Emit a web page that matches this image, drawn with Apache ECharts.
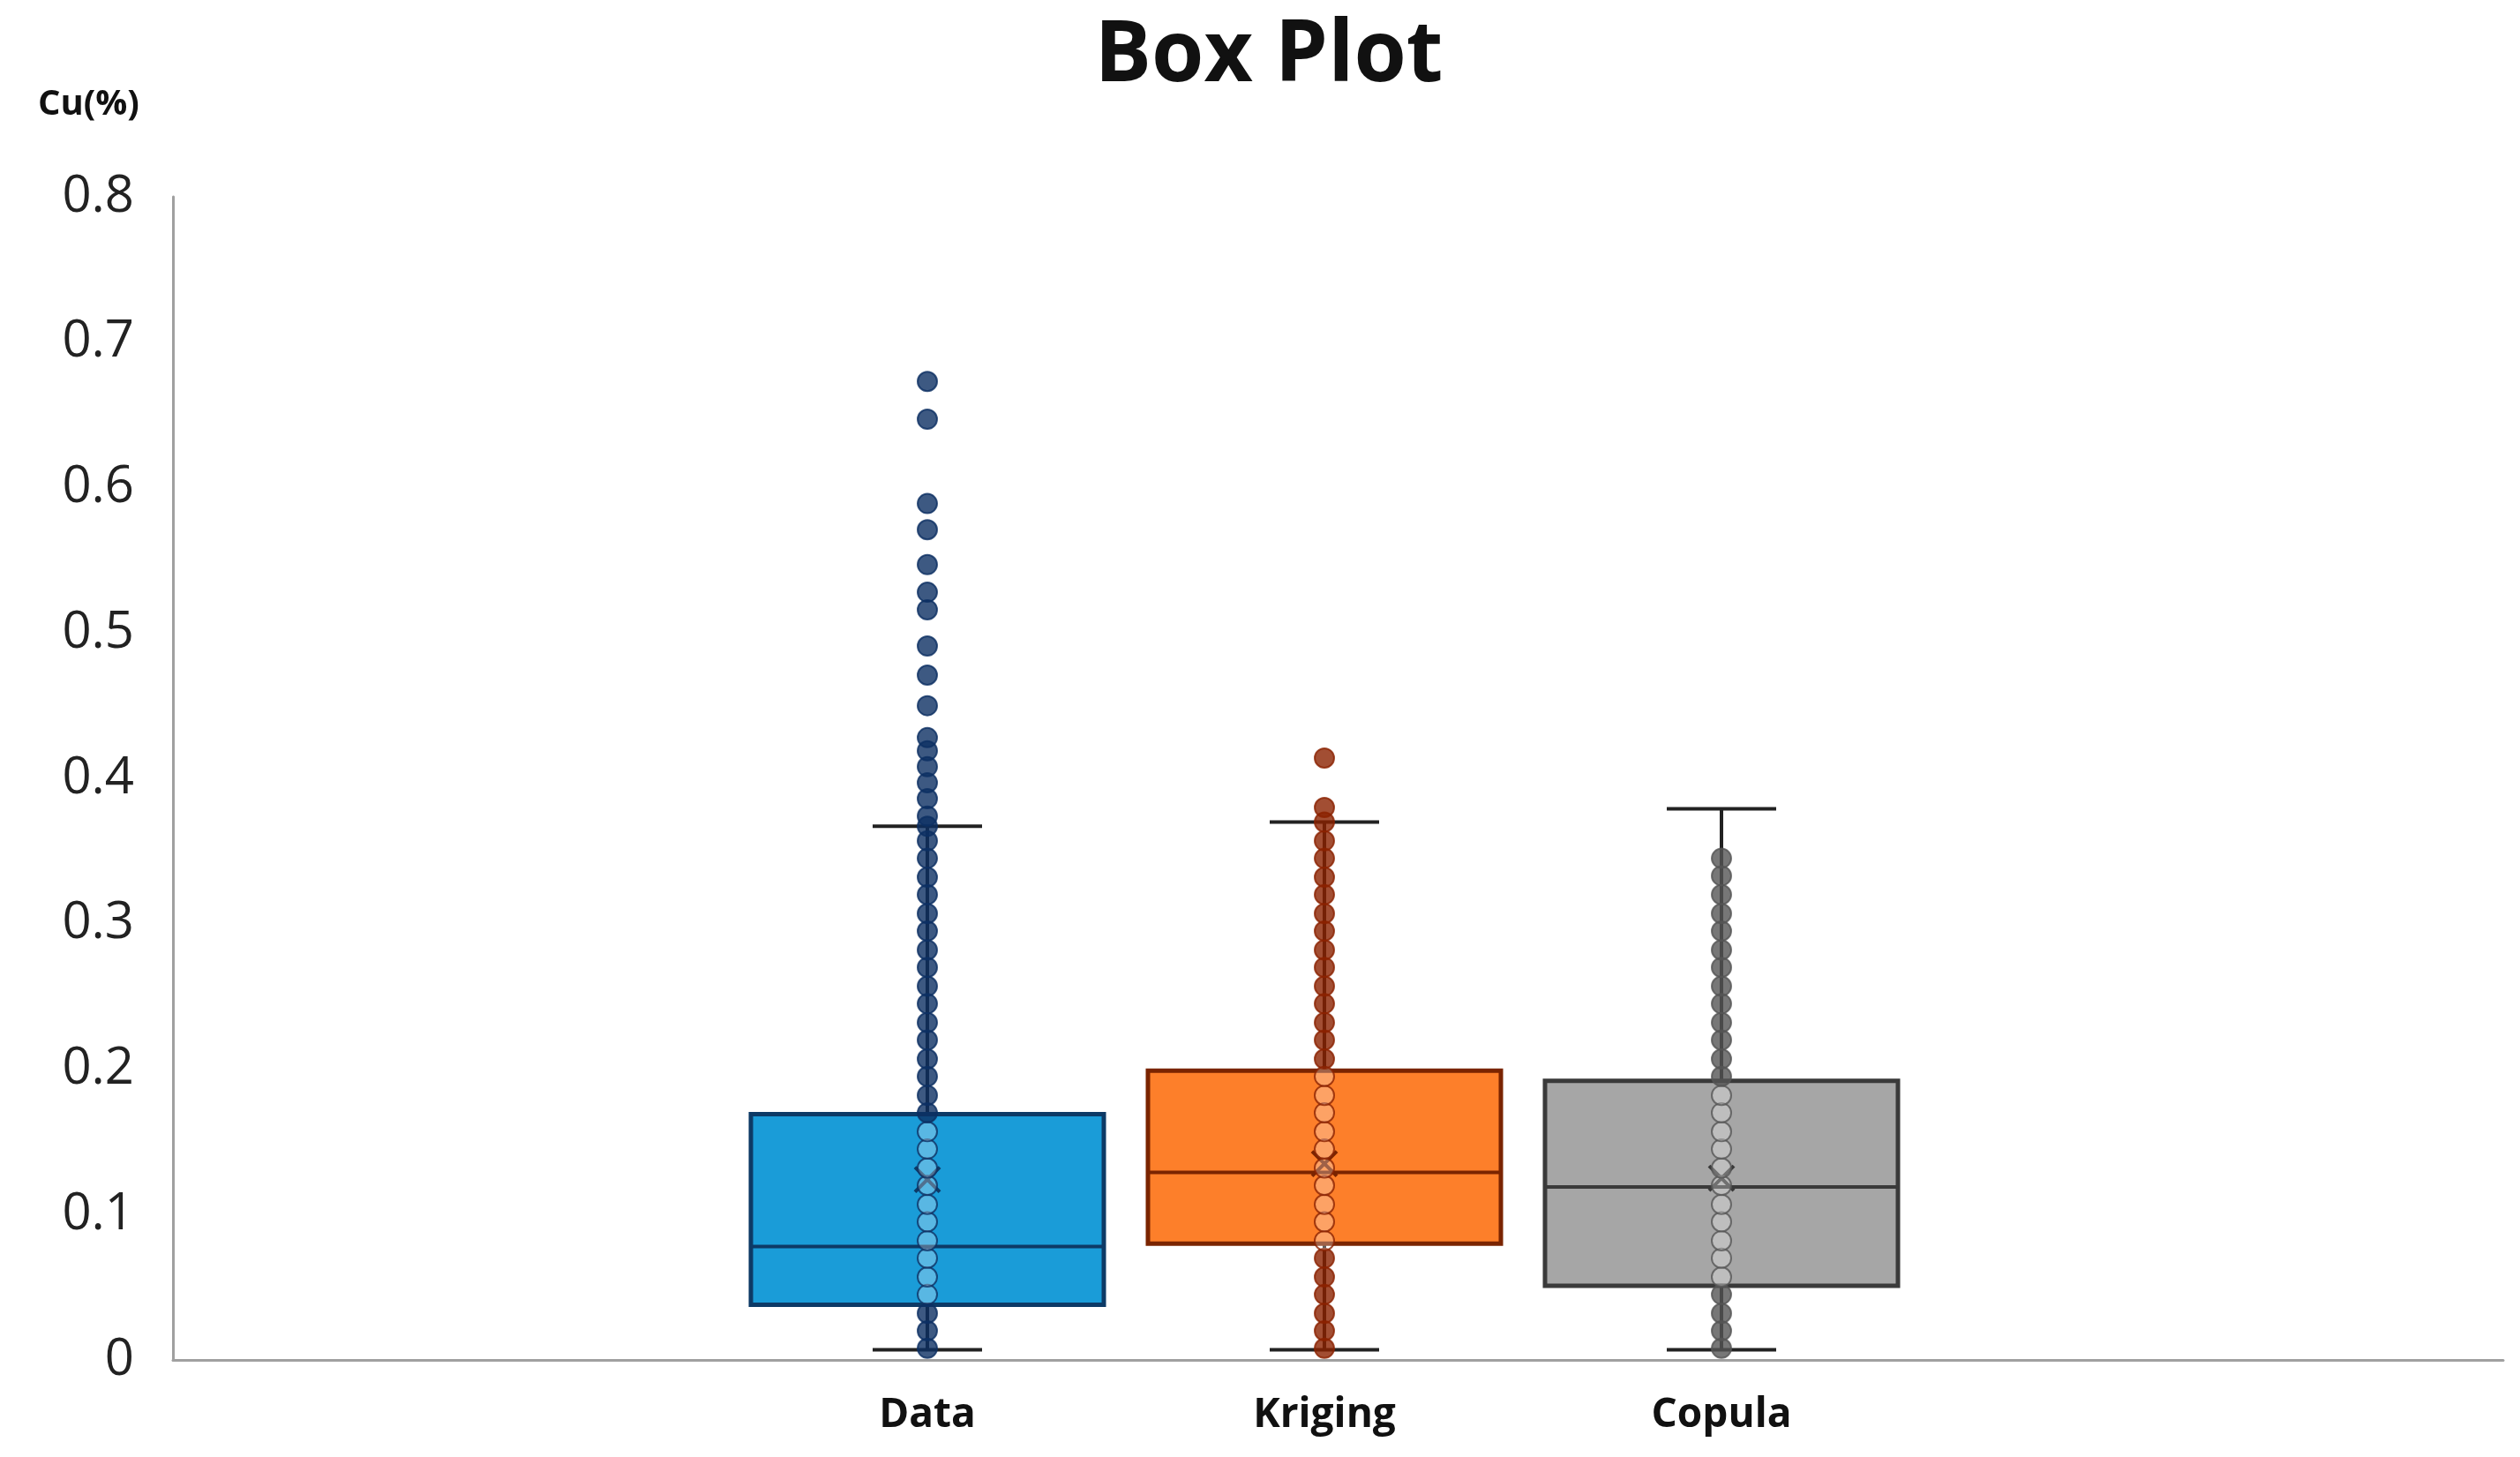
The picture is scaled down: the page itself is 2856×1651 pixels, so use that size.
<!DOCTYPE html>
<html><head><meta charset="utf-8">
<script src="https://cdn.jsdelivr.net/npm/echarts@6/dist/echarts.min.js"></script>
<style>html,body{margin:0;padding:0;background:#fff}#c{width:2856px;height:1651px}</style>
</head><body><div id="c"></div>
<script>
const categories = ['Data', 'Kriging', 'Copula'];
// [whiskerLow, Q1, median, Q3, whiskerHigh, mean]
const boxStats = [
  [0.007, 0.038, 0.078, 0.169, 0.367, 0.124],
  [0.007, 0.080, 0.129, 0.199, 0.370, 0.135],
  [0.007, 0.051, 0.119, 0.192, 0.379, 0.125]
];
const dataPoints = [0.008,0.02,0.032,0.045,0.057,0.07,0.082,0.095,0.107,0.12,0.132,0.145,0.157,0.17,0.182,0.195,0.207,0.22,0.232,0.245,0.257,0.27,0.282,0.295,0.307,0.32,0.332,0.345,0.357,0.367,0.374,0.386,0.397,0.408,0.419,0.428,0.45,0.471,0.491,0.516,0.528,0.547,0.571,0.589,0.647,0.673];
const krigingPoints = [0.008,0.02,0.032,0.045,0.057,0.07,0.082,0.095,0.107,0.12,0.132,0.145,0.157,0.17,0.182,0.195,0.207,0.22,0.232,0.245,0.257,0.27,0.282,0.295,0.307,0.32,0.332,0.345,0.357,0.37,0.38,0.414];
const copulaPoints = [0.008,0.02,0.032,0.045,0.057,0.07,0.082,0.095,0.107,0.12,0.132,0.145,0.157,0.17,0.182,0.195,0.207,0.22,0.232,0.245,0.257,0.27,0.282,0.295,0.307,0.32,0.333,0.345];
const yTicks = [0, 0.1, 0.2, 0.3, 0.4, 0.5, 0.6, 0.7, 0.8];

const fills = ['#1a9cd8', '#fd7f2a', '#a6a6a6'];
const borders = ['#0d3a66', '#7a2400', '#3a3a3a'];
const pointCols = ['#0c2f63', '#8b2200', '#555555'];
const allPoints = [dataPoints, krigingPoints, copulaPoints];

const gTop = 223, gBottom = 110;
const scatterSeries = allPoints.map((arr, i) => ({
  type: 'scatter', xAxisIndex: 1, yAxisIndex: 1, z: 5,
  symbolSize: 22,
  data: arr.map(v => [i, v]),
  itemStyle: {
    color: p => (p.value[1] > boxStats[i][1] && p.value[1] < boxStats[i][3]) ? 'rgba(255,255,255,0.35)' : pointCols[i],
    borderColor: pointCols[i], borderWidth: 2
  }
}));

const chart = echarts.init(document.getElementById('c'));
chart.setOption({
  backgroundColor: '#fff',
  animation: false,
  title: [{ text: 'Box Plot', left: 1433, top: 12, textAlign: 'center',
    textStyle: { fontFamily: 'Open Sans', fontWeight: 'bold', fontSize: 96, color: '#111' } },
    { text: 'Cu(%)', left: 38, top: 94, textStyle: { fontFamily: 'Open Sans', fontWeight: 'bold', fontSize: 40, color: '#111' } }],
  grid: [
    { left: 196, right: 19, top: gTop, bottom: gBottom },
    { left: 826, width: 1350, top: gTop, bottom: gBottom }
  ],
  xAxis: [
    { type: 'value', gridIndex: 0, min: 0, max: 1, axisLine: { show: true, lineStyle: { color: '#a0a0a0', width: 3 } },
      axisTick: { show: false }, axisLabel: { show: false }, splitLine: { show: false } },
    { type: 'category', gridIndex: 1, data: categories, axisLine: { show: false }, axisTick: { show: false },
      axisLabel: { margin: 40, fontFamily: 'Open Sans', fontWeight: 'bold', fontSize: 46, color: '#111' } }
  ],
  yAxis: [
    { type: 'value', gridIndex: 0, min: 0, max: 0.8, interval: 0.1,
      axisLine: { show: true, lineStyle: { color: '#a0a0a0', width: 3 } }, axisTick: { show: false },
      splitLine: { show: false },
      axisLabel: { margin: 44, fontFamily: 'Open Sans', fontSize: 58, color: '#222',
        formatter: v => { const t = yTicks.find(x => Math.abs(x - v) < 1e-9); return t === 0 ? '0' : String(t); } } },
    { type: 'value', gridIndex: 1, min: 0, max: 0.8, show: false }
  ],
  series: [{
    type: 'custom', xAxisIndex: 1, yAxisIndex: 1, z: 2,
    data: boxStats.map((s, i) => [i].concat(s)),
    renderItem: (params, api) => {
      const i = api.value(0);
      const lo = api.coord([i, api.value(1)]), q1 = api.coord([i, api.value(2)]),
            md = api.coord([i, api.value(3)]), q3 = api.coord([i, api.value(4)]),
            hi = api.coord([i, api.value(5)]), mn = api.coord([i, api.value(6)]);
      const x = lo[0], bw = 400, cw = 124;
      const ls = { stroke: '#222', lineWidth: 4 };
      return { type: 'group', children: [
        { type: 'line', shape: { x1: x, y1: lo[1], x2: x, y2: q1[1] }, style: ls },
        { type: 'line', shape: { x1: x, y1: q3[1], x2: x, y2: hi[1] }, style: ls },
        { type: 'line', shape: { x1: x - cw / 2, y1: lo[1], x2: x + cw / 2, y2: lo[1] }, style: ls },
        { type: 'line', shape: { x1: x - cw / 2, y1: hi[1], x2: x + cw / 2, y2: hi[1] }, style: ls },
        { type: 'rect', shape: { x: x - bw / 2, y: q3[1], width: bw, height: q1[1] - q3[1] },
          style: { fill: fills[i], stroke: borders[i], lineWidth: 5 } },
        { type: 'line', shape: { x1: x - bw / 2, y1: md[1], x2: x + bw / 2, y2: md[1] }, style: { stroke: borders[i], lineWidth: 4 } },
        { type: 'line', shape: { x1: x - 14, y1: mn[1] - 14, x2: x + 14, y2: mn[1] + 14 }, style: { stroke: borders[i], lineWidth: 4 } },
        { type: 'line', shape: { x1: x - 14, y1: mn[1] + 14, x2: x + 14, y2: mn[1] - 14 }, style: { stroke: borders[i], lineWidth: 4 } }
      ] };
    }
  }].concat(scatterSeries)
});
</script></body></html>
